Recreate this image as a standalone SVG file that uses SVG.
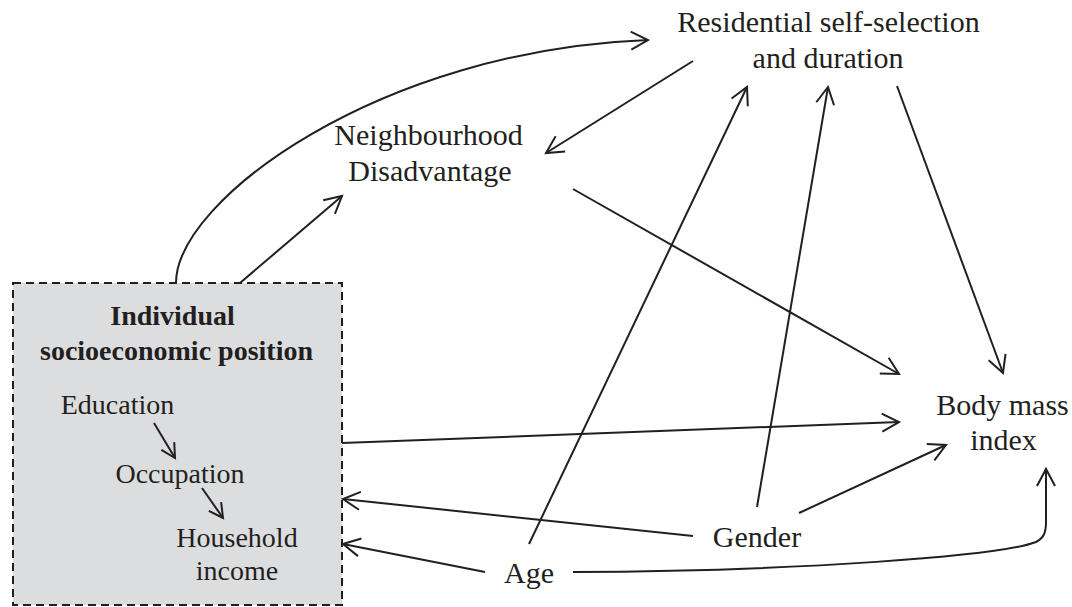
<svg xmlns="http://www.w3.org/2000/svg" width="1072" height="607" viewBox="0 0 1072 607">
<style>
.t{font-family:"Liberation Serif","Times New Roman",serif;fill:#231f20;text-anchor:middle}
.l{font-size:30px}
.s{font-size:28px}
.b{font-weight:bold}
.c{fill:none;stroke:#231f20;stroke-width:2}
.a{marker-end:url(#ah)}
.as{marker-end:url(#ahs)}
</style>
<defs>
<marker id="ah" markerUnits="userSpaceOnUse" markerWidth="40" markerHeight="40" viewBox="-20 -20 40 40" refX="0" refY="0" orient="auto">
<path d="M-17,-9 L0,0 L-17,9" fill="none" stroke="#231f20" stroke-width="2" stroke-linejoin="miter"/>
</marker>
<marker id="ahs" markerUnits="userSpaceOnUse" markerWidth="40" markerHeight="40" viewBox="-20 -20 40 40" refX="0" refY="0" orient="auto">
<path d="M-14,-7.5 L0,0 L-14,7.5" fill="none" stroke="#231f20" stroke-width="2" stroke-linejoin="miter"/>
</marker>
</defs>
<rect width="1072" height="607" fill="#ffffff"/>
<g id="sep">
<rect x="13" y="283" width="329" height="322" fill="#dcdddf" stroke="#231f20" stroke-width="2" stroke-dasharray="8 5"/>
<text class="t s b" x="172.5" y="325">Individual</text>
<text class="t s b" x="176.5" y="360">socioeconomic position</text>
<text class="t s" x="117.5" y="414">Education</text>
<text class="t s" x="180" y="483">Occupation</text>
<text class="t s" x="237" y="547">Household</text>
<text class="t s" x="237" y="580">income</text>
</g>
<g id="residential">
<text class="t l" x="828.5" y="32">Residential self-selection</text>
<text class="t l" x="828" y="68">and duration</text>
</g>
<g id="neighbourhood">
<text class="t l" x="428.5" y="145">Neighbourhood</text>
<text class="t l" x="430" y="181">Disadvantage</text>
</g>
<g id="bmi">
<text class="t l" x="1002.5" y="415">Body mass</text>
<text class="t l" x="1003.5" y="450">index</text>
</g>
<g id="gender">
<text class="t l" x="757" y="547">Gender</text>
</g>
<g id="age">
<text class="t l" x="529" y="583">Age</text>
</g>
<g id="connectors">
<path class="c a" d="M176,283 C176,200 380,50 648,40"/>
<path class="c a" d="M240,283 L342,196"/>
<path class="c a" d="M693,61 L546,153"/>
<path class="c a" d="M573,189 L899,374"/>
<path class="c a" d="M529,544 L747,87"/>
<path class="c a" d="M757,507 L828,87"/>
<path class="c a" d="M897,86 L1003,373"/>
<path class="c a" d="M342,443 L899,422"/>
<path class="c a" d="M799,513 L946,445"/>
<path class="c a" d="M693,536 L343,499"/>
<path class="c a" d="M485,572 L343,544"/>
<path class="c a" d="M573,572 C800,571 1000,556 1036,542 C1044,538 1046,532 1046,522 L1046,469"/>
<path class="c as" d="M154,423 L175,458"/>
<path class="c as" d="M202,488 L223,518"/>
</g>
</svg>
